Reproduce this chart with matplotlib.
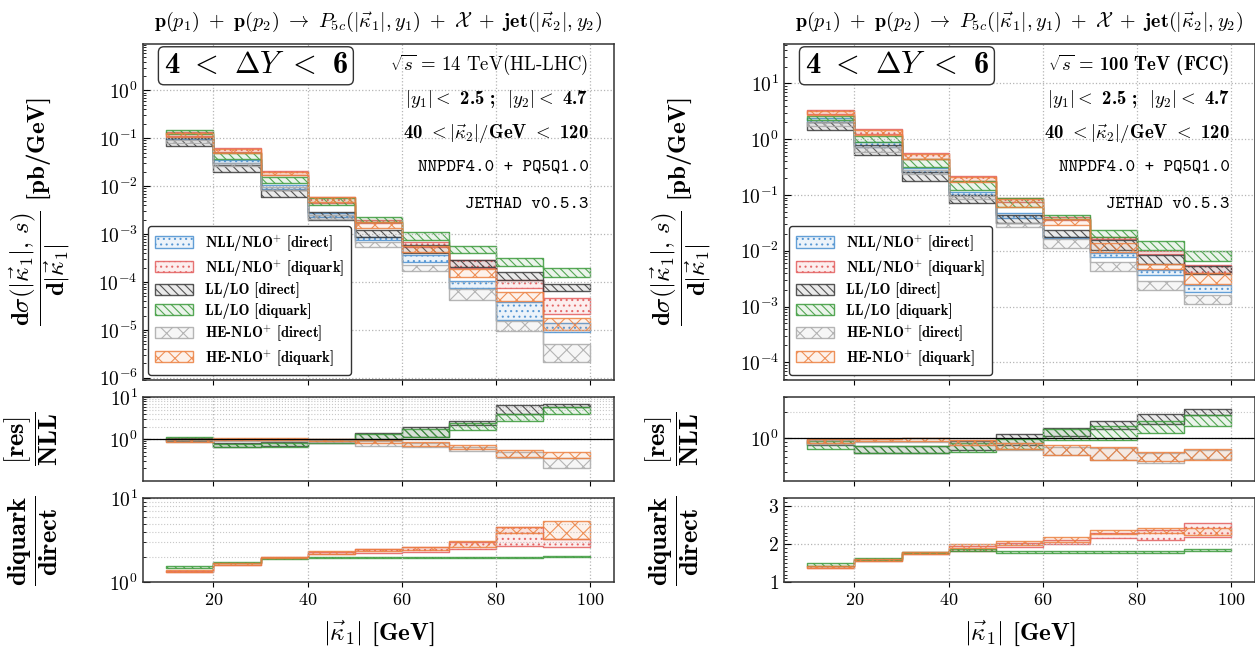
import numpy as np
import matplotlib
matplotlib.use('Agg')
import matplotlib.pyplot as plt
from matplotlib.colors import to_rgba
from matplotlib.patches import Patch
from matplotlib.ticker import (FuncFormatter, NullFormatter, LogLocator,
                               MultipleLocator, FixedLocator)

plt.rcParams['font.family'] = 'cmr10'
plt.rcParams['mathtext.fontset'] = 'cm'
plt.rcParams['axes.formatter.use_mathtext'] = True
plt.rcParams['axes.unicode_minus'] = False
plt.rcParams['hatch.linewidth'] = 0.8

# bin edges |kappa_1| [GeV]
edges = [10, 20, 30, 40, 50, 60, 70, 80, 90, 100]

# ---------------- 14 TeV (HL-LHC) : d sigma / d|k1| [pb/GeV] ----------------
lhc_nll_dir_lo = [0.095, 0.030, 0.0086, 2.24e-3, 7.6e-4, 2.6e-4, 7.6e-5, 1.6e-5, 9.2e-6]
lhc_nll_dir_hi = [0.108, 0.035, 0.0106, 2.8e-3, 8.6e-4, 3.6e-4, 1.05e-4, 3.9e-5, 1.38e-5]
lhc_nll_dq_lo = [0.113, 0.0525, 0.0171, 4.5e-3, 1.7e-3, 5.5e-4, 1.95e-4, 7.6e-5, 2.1e-5]
lhc_nll_dq_hi = [0.133, 0.062, 0.021, 5.9e-3, 1.95e-3, 6.9e-4, 2.9e-4, 1.1e-4, 4.7e-5]
lhc_ll_dir_lo = [0.069, 0.0201, 0.0059, 1.95e-3, 8.9e-4, 4.0e-4, 2.1e-4, 1.1e-4, 6.5e-5]
lhc_ll_dir_hi = [0.100, 0.0277, 0.0083, 2.95e-3, 1.23e-3, 5.9e-4, 2.9e-4, 1.64e-4, 9.3e-5]
lhc_ll_dq_lo = [0.123, 0.0365, 0.0115, 4.1e-3, 1.8e-3, 7.6e-4, 4.0e-4, 2.2e-4, 1.3e-4]
lhc_ll_dq_hi = [0.149, 0.0487, 0.0153, 5.6e-3, 2.3e-3, 1.12e-3, 5.7e-4, 3.2e-4, 1.95e-4]
lhc_he_dir_lo = [0.078, 0.026, 0.0083, 2.1e-3, 5.5e-4, 1.7e-4, 4.2e-5, 9.5e-6, 2.1e-6]
lhc_he_dir_hi = [0.090, 0.030, 0.0095, 2.5e-3, 6.9e-4, 2.26e-4, 7.1e-5, 1.55e-5, 5.2e-6]
lhc_he_dq_lo = [0.108, 0.050, 0.017, 4.7e-3, 1.35e-3, 4.2e-4, 1.3e-4, 4.0e-5, 1.0e-5]
lhc_he_dq_hi = [0.127, 0.059, 0.020, 5.9e-3, 1.82e-3, 5.7e-4, 1.86e-4, 6.3e-5, 1.8e-5]

# [res]/NLL
lhc_r1_ll_dir_lo = [0.92, 0.66, 0.68, 0.82, 1.00, 1.15, 2.19, 4.0, 6.0]
lhc_r1_ll_dir_hi = [1.05, 0.80, 0.84, 1.00, 1.43, 1.93, 2.77, 6.6, 7.0]
lhc_r1_ll_dq_lo = [0.95, 0.64, 0.66, 0.80, 0.98, 1.10, 1.66, 2.77, 4.0]
lhc_r1_ll_dq_hi = [1.12, 0.78, 0.80, 0.95, 1.30, 1.75, 2.40, 4.0, 6.0]
lhc_r1_he_dir_lo = [0.85, 0.90, 0.90, 0.88, 0.70, 0.65, 0.52, 0.35, 0.21]
lhc_r1_he_dir_hi = [0.97, 1.00, 1.00, 0.98, 0.90, 0.82, 0.66, 0.50, 0.35]
lhc_r1_he_dq_lo = [0.88, 0.98, 0.98, 0.90, 0.80, 0.70, 0.57, 0.38, 0.35]
lhc_r1_he_dq_hi = [1.00, 1.05, 1.07, 1.00, 0.98, 0.87, 0.73, 0.55, 0.50]

# diquark/direct
lhc_r2_nll_lo = [1.34, 1.62, 1.93, 2.17, 2.21, 2.31, 2.47, 2.70, 2.65]
lhc_r2_nll_hi = [1.38, 1.68, 2.00, 2.31, 2.47, 2.60, 3.04, 4.60, 3.25]
lhc_r2_ll_lo = [1.50, 1.69, 1.90, 1.97, 1.97, 1.95, 1.93, 1.96, 1.98]
lhc_r2_ll_hi = [1.56, 1.74, 1.95, 2.02, 2.02, 2.00, 1.98, 2.01, 2.03]
lhc_r2_he_lo = [1.32, 1.62, 1.93, 2.20, 2.35, 2.45, 2.60, 3.90, 3.30]
lhc_r2_he_hi = [1.40, 1.70, 2.02, 2.35, 2.50, 2.65, 3.10, 4.50, 5.30]

# ---------------- 100 TeV (FCC) ----------------
fcc_nll_dir_lo = [2.0, 0.736, 0.256, 0.100, 0.039, 0.0166, 0.0078, 0.0037, 0.0018]
fcc_nll_dir_hi = [2.4, 0.905, 0.310, 0.115, 0.047, 0.0180, 0.0092, 0.0045, 0.0024]
fcc_nll_dq_lo = [2.8, 1.23, 0.443, 0.178, 0.075, 0.036, 0.0160, 0.0087, 0.0040]
fcc_nll_dq_hi = [3.36, 1.53, 0.575, 0.220, 0.087, 0.040, 0.0178, 0.0100, 0.0055]
fcc_ll_dir_lo = [1.47, 0.52, 0.178, 0.071, 0.031, 0.0174, 0.0105, 0.0058, 0.0038]
fcc_ll_dir_hi = [2.07, 0.79, 0.256, 0.100, 0.044, 0.0240, 0.0155, 0.0083, 0.0053]
fcc_ll_dq_lo = [2.2, 0.905, 0.323, 0.123, 0.062, 0.037, 0.0178, 0.0103, 0.0066]
fcc_ll_dq_hi = [2.65, 1.16, 0.443, 0.178, 0.087, 0.044, 0.0240, 0.0149, 0.0099]
fcc_he_dir_lo = [1.7, 0.60, 0.240, 0.085, 0.027, 0.011, 0.0044, 0.0020, 0.0011]
fcc_he_dir_hi = [2.0, 0.74, 0.280, 0.095, 0.031, 0.016, 0.0063, 0.0029, 0.0016]
fcc_he_dq_lo = [2.7, 1.20, 0.440, 0.170, 0.062, 0.029, 0.0096, 0.0047, 0.0025]
fcc_he_dq_hi = [3.2, 1.48, 0.550, 0.210, 0.085, 0.037, 0.0140, 0.0058, 0.0040]

fcc_r1_ll_dir_lo = [0.82, 0.66, 0.66, 0.72, 0.82, 1.05, 1.28, 1.44, 1.85]
fcc_r1_ll_dir_hi = [0.96, 0.81, 0.81, 0.91, 1.10, 1.32, 1.58, 1.90, 2.18]
fcc_r1_ll_dq_lo = [0.74, 0.66, 0.66, 0.69, 0.74, 0.95, 0.94, 1.15, 1.38]
fcc_r1_ll_dq_hi = [0.92, 0.81, 0.81, 0.88, 0.98, 1.26, 1.38, 1.58, 1.85]
fcc_r1_he_dir_lo = [0.85, 0.90, 0.90, 0.82, 0.72, 0.62, 0.55, 0.50, 0.56]
fcc_r1_he_dir_hi = [0.95, 0.98, 0.99, 0.95, 0.87, 0.79, 0.76, 0.66, 0.72]
fcc_r1_he_dq_lo = [0.87, 0.91, 0.91, 0.83, 0.74, 0.63, 0.55, 0.54, 0.55]
fcc_r1_he_dq_hi = [0.97, 0.97, 1.00, 0.95, 0.87, 0.83, 0.79, 0.69, 0.73]

fcc_r2_nll_lo = [1.37, 1.56, 1.74, 1.83, 1.93, 2.00, 2.15, 2.12, 2.19]
fcc_r2_nll_hi = [1.43, 1.60, 1.80, 1.95, 2.03, 2.12, 2.28, 2.37, 2.56]
fcc_r2_ll_lo = [1.43, 1.58, 1.76, 1.81, 1.77, 1.78, 1.78, 1.78, 1.83]
fcc_r2_ll_hi = [1.50, 1.63, 1.80, 1.86, 1.81, 1.82, 1.82, 1.83, 1.88]
fcc_r2_he_lo = [1.37, 1.56, 1.74, 1.89, 1.98, 2.06, 2.26, 2.30, 2.23]
fcc_r2_he_hi = [1.43, 1.60, 1.80, 2.00, 2.08, 2.19, 2.37, 2.43, 2.41]

labels = ['NLL/NLO$^{+}$ [direct]', 'NLL/NLO$^{+}$ [diquark]', 'LL/LO [direct]',
          'LL/LO [diquark]', 'HE-NLO$^{+}$ [direct]', 'HE-NLO$^{+}$ [diquark]']
colors = ['#4a8fd0', '#e35d5d', '#3a3a3a', '#3b9a3b', '#a9a9a9', '#ec8040']
hatches = ['...', '...', '\\\\\\\\', '\\\\\\\\', 'xx', 'xx']


def band(ax, lo, hi, col, hatch):
    lo = list(lo) + [lo[-1]]
    hi = list(hi) + [hi[-1]]
    ax.fill_between(edges, lo, hi, step='post', facecolor=to_rgba(col, 0.10),
                    edgecolor=to_rgba(col, 0.85), hatch=hatch, linewidth=1.0)


def bold_log(v, pos):
    return r'$\mathbf{10^{%d}}$' % int(round(np.log10(v)))


def reg_log(v, pos):
    return r'$10^{%d}$' % int(round(np.log10(v)))


def style(ax, bottom_labels):
    ax.set_xlim(5, 105)
    ax.xaxis.set_major_locator(FixedLocator([20, 40, 60, 80, 100]))
    ax.tick_params(axis='x', which='both', direction='out', labelbottom=bottom_labels,
                   labelsize=13)
    ax.tick_params(axis='y', which='both', direction='in', labelsize=14)
    ax.tick_params(axis='y', which='major', length=5)
    ax.tick_params(axis='y', which='minor', length=2.5)
    for s in ax.spines.values():
        s.set_color('#333333')
        s.set_linewidth(1.1)
    ax.grid(True, which='major', ls=':', color='#b5b5b5', lw=0.9)


def column(left, main, r1, r2, main_ylim, bold, sqrt_txt):
    w = 0.3755
    ax0 = fig.add_axes([left, 0.4198, w, 0.5137])
    ax1 = fig.add_axes([left, 0.2656, w, 0.1278])
    ax2 = fig.add_axes([left, 0.1110, w, 0.1282])
    fmt = bold_log if bold else reg_log
    tfam = 'cmb10' if bold else 'cmr10'

    # main panel
    for (lo, hi), c, h in zip(main, colors, hatches):
        band(ax0, lo, hi, c, h)
    ax0.set_yscale('log')
    ax0.set_ylim(*main_ylim)
    ax0.yaxis.set_major_locator(LogLocator(base=10, numticks=20))
    ax0.yaxis.set_minor_locator(LogLocator(base=10, subs=np.arange(2, 10), numticks=20))
    ax0.yaxis.set_major_formatter(FuncFormatter(fmt))
    ax0.yaxis.set_minor_formatter(NullFormatter())
    style(ax0, False)
    ax0.set_ylabel(r'$\dfrac{\mathbf{d}\sigma(|\vec{\kappa}_1|,\, s)}{\mathbf{d}|\vec{\kappa}_1|}$ [pb/GeV]',
                   family='cmb10', fontsize=18)
    ax0.yaxis.set_label_coords(-0.15, 0.5)
    ax0.set_title(r'$\mathbf{p}(p_1)\ +\ \mathbf{p}(p_2)\ \to\ P_{5c}(|\vec{\kappa}_1|, y_1)'
                  r'\ +\ \mathcal{X}\ +\ \mathbf{jet}(|\vec{\kappa}_2|, y_2)$', fontsize=14.5, pad=12)

    ax0.text(0.045, 0.934, r'4 $<$ $\mathbf{\Delta}Y$ $<$ 6', transform=ax0.transAxes,
             family='cmb10', fontsize=22, ha='left', va='center',
             bbox=dict(boxstyle='round,pad=0.18', fc='white', ec='#333333', lw=1.0))
    ax0.text(0.946, 0.936, sqrt_txt, transform=ax0.transAxes, ha='right', va='center',
             family=tfam, fontsize=13.5)
    ax0.text(0.946, 0.835, r'$|y_1| <$ 2.5 ;  $|y_2| <$ 4.7',
             transform=ax0.transAxes, ha='right', va='center', family='cmb10', fontsize=13.5)
    ax0.text(0.946, 0.734, r'40 $< |\vec{\kappa}_2|/$GeV $<$ 120',
             transform=ax0.transAxes, ha='right', va='center', family='cmb10', fontsize=13.5)
    ax0.text(0.946, 0.633, 'NNPDF4.0 + PQ5Q1.0', transform=ax0.transAxes, ha='right',
             va='center', family='cmtt10', fontsize=13)
    ax0.text(0.946, 0.522, 'JETHAD v0.5.3', transform=ax0.transAxes, ha='right',
             va='center', family='cmtt10', fontsize=13)

    handles = [Patch(facecolor=to_rgba(c, 0.10), edgecolor=to_rgba(c, 0.85), hatch=h,
                     lw=1.0, label=l) for c, h, l in zip(colors, hatches, labels)]
    leg = ax0.legend(handles=handles, loc='lower left', prop={'family': 'cmb10', 'size': 10.5},
                     frameon=True, fancybox=True, framealpha=1, edgecolor='#333333',
                     handlelength=2.6, handleheight=0.8, labelspacing=0.32,
                     borderpad=0.5, borderaxespad=0.35)
    leg.get_frame().set_linewidth(1.0)

    # [res]/NLL
    r1_cols = [colors[2], colors[3], colors[4], colors[5]]
    r1_hat = [hatches[2], hatches[3], hatches[4], hatches[5]]
    for (lo, hi), c, h in zip(r1[0], r1_cols, r1_hat):
        band(ax1, lo, hi, c, h)
    ax1.axhline(1, color='black', lw=0.9)
    ax1.set_yscale('log')
    ax1.set_ylim(*r1[1])
    ax1.yaxis.set_major_locator(FixedLocator(r1[2]))
    ax1.yaxis.set_minor_locator(LogLocator(base=10, subs=np.arange(2, 10), numticks=20))
    ax1.yaxis.set_major_formatter(FuncFormatter(fmt))
    ax1.yaxis.set_minor_formatter(NullFormatter())
    style(ax1, False)
    for g in r1[3]:
        ax1.axhline(g, ls=':', color='#c8c8c8', lw=0.8, zorder=0)
    ax1.set_ylabel(r'$\dfrac{\mathbf{[res]}}{\mathbf{NLL}}$', fontsize=19)
    ax1.yaxis.set_label_coords(-0.175, 0.5)

    # diquark/direct
    r2_cols = [colors[1], colors[3], colors[5]]
    r2_hat = [hatches[1], hatches[3], hatches[5]]
    for (lo, hi), c, h in zip(r2[0], r2_cols, r2_hat):
        band(ax2, lo, hi, c, h)
    if r2[1] == 'log':
        ax2.set_yscale('log')
        ax2.set_ylim(1, 10)
        ax2.yaxis.set_major_locator(FixedLocator([1, 10]))
        ax2.yaxis.set_minor_locator(LogLocator(base=10, subs=np.arange(2, 10), numticks=20))
        ax2.yaxis.set_major_formatter(FuncFormatter(fmt))
        for g in range(2, 10):
            ax2.axhline(g, ls=':', color='#c8c8c8', lw=0.8, zorder=0)
    else:
        ax2.set_ylim(1, 3.2)
        ax2.yaxis.set_major_locator(FixedLocator([1, 2, 3]))
        ax2.yaxis.set_minor_locator(MultipleLocator(0.1))
        ax2.yaxis.set_major_formatter(FuncFormatter(lambda v, p: r'$\mathbf{%d}$' % v))
    ax2.yaxis.set_minor_formatter(NullFormatter())
    style(ax2, True)
    ax2.set_ylabel(r'$\dfrac{\mathbf{diquark}}{\mathbf{direct}}$', fontsize=19)
    ax2.yaxis.set_label_coords(-0.175, 0.5)
    ax2.set_xlabel(r'$|\vec{\kappa}_1|$ [GeV]', family='cmb10', fontsize=18, labelpad=8)


fig = plt.figure(figsize=(12.55, 6.55), dpi=100)

column(0.1137,
       [(lhc_nll_dir_lo, lhc_nll_dir_hi), (lhc_nll_dq_lo, lhc_nll_dq_hi),
        (lhc_ll_dir_lo, lhc_ll_dir_hi), (lhc_ll_dq_lo, lhc_ll_dq_hi),
        (lhc_he_dir_lo, lhc_he_dir_hi), (lhc_he_dq_lo, lhc_he_dq_hi)],
       ([(lhc_r1_ll_dir_lo, lhc_r1_ll_dir_hi), (lhc_r1_ll_dq_lo, lhc_r1_ll_dq_hi),
         (lhc_r1_he_dir_lo, lhc_r1_he_dir_hi), (lhc_r1_he_dq_lo, lhc_r1_he_dq_hi)],
        (0.1, 10), [1, 10], [2, 3, 4, 5, 6, 7, 8, 9]),
       ([(lhc_r2_nll_lo, lhc_r2_nll_hi), (lhc_r2_ll_lo, lhc_r2_ll_hi),
         (lhc_r2_he_lo, lhc_r2_he_hi)], 'log'),
       (9e-7, 9.5), False, r'$\sqrt{s}$ = 14 TeV(HL-LHC)')

column(0.6245,
       [(fcc_nll_dir_lo, fcc_nll_dir_hi), (fcc_nll_dq_lo, fcc_nll_dq_hi),
        (fcc_ll_dir_lo, fcc_ll_dir_hi), (fcc_ll_dq_lo, fcc_ll_dq_hi),
        (fcc_he_dir_lo, fcc_he_dir_hi), (fcc_he_dq_lo, fcc_he_dq_hi)],
       ([(fcc_r1_ll_dir_lo, fcc_r1_ll_dir_hi), (fcc_r1_ll_dq_lo, fcc_r1_ll_dq_hi),
         (fcc_r1_he_dir_lo, fcc_r1_he_dir_hi), (fcc_r1_he_dq_lo, fcc_r1_he_dq_hi)],
        (0.31, 3), [1], [2]),
       ([(fcc_r2_nll_lo, fcc_r2_nll_hi), (fcc_r2_ll_lo, fcc_r2_ll_hi),
         (fcc_r2_he_lo, fcc_r2_he_hi)], 'lin'),
       (4.8e-5, 52), True, r'$\sqrt{s}$ = 100 TeV (FCC)')

fig.savefig('out.png', dpi=100)
